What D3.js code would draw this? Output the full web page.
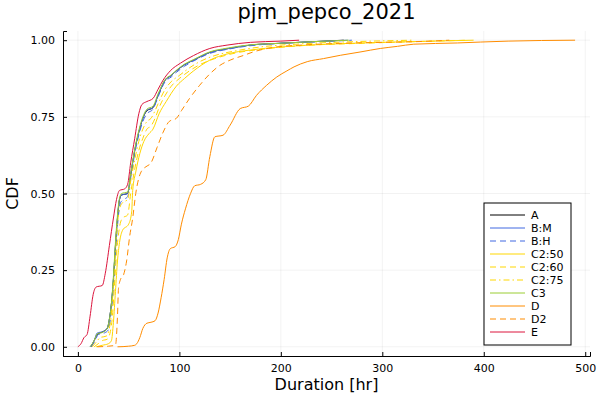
<!DOCTYPE html>
<html>
<head>
<meta charset="utf-8">
<script src="https://cdn.jsdelivr.net/npm/d3@7"></script>
<style>
  body { margin: 0; background: #fff; }
  svg { display: block; font-family: "DejaVu Sans", sans-serif; }
</style>
</head>
<body>
<script>
const width = 600;
const height = 400;
const margin = {top: 31, right: 10, bottom: 44, left: 63};

const chartTitle = 'pjm_pepco_2021';
const xLabel = 'Duration [hr]';
const yLabel = 'CDF';
const xTicks = [0, 100, 200, 300, 400, 500];
const yTicks = [0, 0.25, 0.5, 0.75, 1];

const seriesNames = ['A', 'B:M', 'B:H', 'C2:50', 'C2:60', 'C2:75', 'C3', 'D', 'D2', 'E'];

// [duration, cdf]
const cdfA = [[13,0],[16,0.02],[19,0.04],[25,0.05],[29,0.06],[31,0.09],[33,0.14],[35,0.22],[37,0.33],[39,0.42],[41,0.48],[43,0.495],[49,0.5],[52,0.56],[56,0.64],[60,0.7],[64,0.745],[68,0.77],[74,0.78],[79,0.82],[86,0.87],[92,0.885],[97,0.9],[105,0.92],[114,0.935],[130,0.96],[147,0.972],[170,0.984],[200,0.99],[230,0.995],[262,1]];
const cdfBM = [[12,0],[16,0.02],[19,0.045],[25,0.05],[29,0.062],[31,0.09],[33,0.14],[35,0.22],[37,0.33],[39,0.42],[41,0.48],[43,0.495],[49,0.5],[52,0.56],[56,0.64],[60,0.7],[64,0.745],[68,0.772],[74,0.78],[79,0.82],[86,0.87],[92,0.885],[97,0.9],[105,0.92],[114,0.935],[130,0.96],[147,0.972],[170,0.984],[200,0.99],[230,0.995],[266,1]];
const cdfBH = [[13,0],[17,0.02],[20,0.04],[26,0.045],[30,0.055],[32,0.09],[34,0.15],[36,0.24],[38,0.35],[40,0.43],[42,0.47],[45,0.48],[49,0.49],[52,0.55],[56,0.63],[60,0.69],[64,0.735],[68,0.76],[74,0.775],[79,0.815],[86,0.865],[92,0.88],[97,0.895],[105,0.915],[114,0.932],[130,0.957],[147,0.97],[170,0.982],[200,0.99],[240,0.995],[270,1]];
const cdfC250 = [[18,0],[24,0.005],[30,0.01],[33,0.02],[35,0.08],[37,0.18],[39,0.28],[41,0.34],[44,0.38],[50,0.4],[53,0.44],[54,0.51],[57,0.57],[61,0.63],[65,0.67],[70,0.695],[74,0.71],[80,0.76],[87,0.8],[97,0.85],[105,0.875],[114,0.9],[130,0.935],[147,0.955],[170,0.968],[200,0.978],[240,0.986],[300,0.993],[350,0.997],[390,1]];
const cdfC260 = [[16,0],[20,0.01],[24,0.02],[29,0.025],[32,0.05],[34,0.1],[36,0.2],[38,0.3],[41,0.39],[44,0.42],[49,0.43],[52,0.5],[56,0.58],[60,0.64],[64,0.68],[68,0.71],[72,0.72],[76,0.745],[80,0.78],[86,0.82],[92,0.85],[100,0.875],[110,0.9],[120,0.92],[135,0.94],[155,0.958],[180,0.97],[220,0.982],[280,0.99],[340,0.996],[384,1]];
const cdfC275 = [[14,0],[18,0.015],[22,0.03],[28,0.035],[31,0.06],[33,0.11],[35,0.2],[37,0.31],[39,0.4],[41,0.45],[44,0.47],[49,0.48],[52,0.54],[56,0.61],[60,0.67],[64,0.71],[68,0.735],[72,0.745],[76,0.77],[80,0.8],[86,0.84],[92,0.865],[100,0.885],[110,0.91],[120,0.93],[135,0.95],[155,0.965],[180,0.978],[220,0.988],[270,0.995],[330,1]];
const cdfC3 = [[12,0],[16,0.02],[19,0.042],[25,0.048],[29,0.06],[31,0.09],[33,0.14],[35,0.23],[37,0.34],[39,0.43],[41,0.485],[43,0.5],[49,0.505],[52,0.565],[56,0.645],[60,0.705],[64,0.75],[68,0.775],[74,0.785],[79,0.825],[86,0.872],[92,0.887],[97,0.902],[105,0.922],[114,0.937],[130,0.962],[147,0.974],[170,0.985],[200,0.99],[230,0.995],[267,1]];
const cdfD = [[39,0],[50,0.002],[56,0.005],[58,0.01],[61,0.03],[64,0.06],[68,0.077],[72,0.08],[76,0.085],[79,0.11],[82,0.16],[85,0.22],[88,0.29],[91,0.32],[96,0.327],[99,0.35],[102,0.4],[106,0.45],[111,0.5],[115,0.525],[121,0.53],[126,0.545],[130,0.62],[135,0.685],[143,0.69],[150,0.723],[160,0.777],[168,0.785],[176,0.82],[186,0.853],[196,0.88],[206,0.9],[213,0.913],[226,0.93],[242,0.94],[259,0.951],[279,0.962],[298,0.973],[315,0.98],[331,0.987],[374,0.991],[397,0.994],[424,0.997],[490,1]];
const cdfD2 = [[19,0],[30,0.002],[37,0.005],[39,0.1],[40,0.19],[42,0.22],[45,0.235],[48,0.28],[51,0.36],[54,0.42],[57,0.5],[60,0.55],[63,0.575],[66,0.585],[72,0.6],[78,0.65],[84,0.7],[90,0.735],[97,0.745],[102,0.77],[110,0.81],[120,0.853],[130,0.89],[140,0.918],[150,0.935],[163,0.95],[173,0.962],[196,0.978],[220,0.984],[260,0.99],[300,0.993],[340,0.996],[366,1]];
const cdfE = [[0,0],[3,0.01],[6,0.03],[9,0.04],[12,0.1],[15,0.17],[18,0.195],[24,0.2],[27,0.24],[31,0.33],[35,0.42],[38,0.48],[41,0.51],[46,0.515],[49,0.53],[52,0.6],[56,0.68],[60,0.76],[63,0.79],[68,0.8],[74,0.81],[79,0.84],[84,0.87],[91,0.9],[101,0.925],[114,0.95],[130,0.973],[147,0.984],[170,0.993],[200,0.997],[218,1]];

const seriesValues = [cdfA, cdfBM, cdfBH, cdfC250, cdfC260, cdfC275, cdfC3, cdfD, cdfD2, cdfE];

const seriesStyle = {
  'A':     {color: '#000000', dash: null},
  'B:M':   {color: '#4169e1', dash: null},
  'B:H':   {color: '#4169e1', dash: '6,4'},
  'C2:50': {color: '#ffd700', dash: null},
  'C2:60': {color: '#ffd700', dash: '6,4'},
  'C2:75': {color: '#ffd700', dash: '6,3,1.5,3'},
  'C3':    {color: '#9acd32', dash: null},
  'D':     {color: '#ff8c00', dash: null},
  'D2':    {color: '#ff8c00', dash: '6,4'},
  'E':     {color: '#dc143c', dash: null}
};

const series = seriesNames.map((name, i) => ({name, values: seriesValues[i]}));

const xMax = d3.max(series, s => d3.max(s.values, d => d[0]));
const xPad = 0.03 * xMax;

const x = d3.scaleLinear()
  .domain([-xPad, xMax + xPad])
  .range([margin.left, width - margin.right]);

const y = d3.scaleLinear()
  .domain([-0.03, 1.03])
  .range([height - margin.bottom, margin.top]);

const svg = d3.select('body').append('svg')
  .attr('width', width)
  .attr('height', height);

// grid
svg.append('g')
  .selectAll('line')
  .data(xTicks)
  .join('line')
  .attr('x1', d => x(d)).attr('x2', d => x(d))
  .attr('y1', margin.top).attr('y2', height - margin.bottom)
  .attr('stroke', '#000').attr('stroke-opacity', 0.1).attr('stroke-width', 0.5);

svg.append('g')
  .selectAll('line')
  .data(yTicks)
  .join('line')
  .attr('x1', margin.left).attr('x2', width - margin.right)
  .attr('y1', d => y(d)).attr('y2', d => y(d))
  .attr('stroke', '#000').attr('stroke-opacity', 0.1).attr('stroke-width', 0.5);

// curves
const line = d3.line()
  .x(d => x(d[0]))
  .y(d => y(d[1]))
  .curve(d3.curveMonotoneX);

svg.append('g')
  .selectAll('path')
  .data(series)
  .join('path')
  .attr('fill', 'none')
  .attr('stroke', d => seriesStyle[d.name].color)
  .attr('stroke-width', 1)
  .attr('stroke-dasharray', d => seriesStyle[d.name].dash)
  .attr('d', d => line(d.values));

// axes
const xAxis = svg.append('g')
  .attr('transform', `translate(0,${height - margin.bottom})`)
  .call(d3.axisBottom(x).tickValues(xTicks).tickFormat(d3.format('d')).tickSize(-4).tickPadding(8));

const yAxis = svg.append('g')
  .attr('transform', `translate(${margin.left},0)`)
  .call(d3.axisLeft(y).tickValues(yTicks).tickFormat(d3.format('.2f')).tickSize(-4).tickPadding(8));

[xAxis, yAxis].forEach(g => {
  g.select('.domain').attr('stroke', '#000').attr('stroke-width', 1);
  g.selectAll('.tick line').attr('stroke', '#000');
  g.selectAll('.tick text').attr('font-size', 11).attr('fill', '#000')
    .attr('font-family', '"DejaVu Sans", sans-serif');
});

// titles
svg.append('text')
  .attr('x', (margin.left + width - margin.right) / 2)
  .attr('y', 18.5)
  .attr('text-anchor', 'middle')
  .attr('font-size', 21)
  .text(chartTitle);

svg.append('text')
  .attr('x', (margin.left + width - margin.right) / 2)
  .attr('y', 390)
  .attr('text-anchor', 'middle')
  .attr('font-size', 16)
  .text(xLabel);

svg.append('text')
  .attr('transform', `translate(18,${(margin.top + height - margin.bottom) / 2}) rotate(-90)`)
  .attr('text-anchor', 'middle')
  .attr('font-size', 16)
  .text(yLabel);

// legend
const legend = svg.append('g').attr('transform', 'translate(484,203)');

legend.append('rect')
  .attr('width', 87)
  .attr('height', 142)
  .attr('fill', '#fff')
  .attr('stroke', '#000')
  .attr('stroke-width', 1);

const entry = legend.selectAll('g.entry')
  .data(seriesNames)
  .join('g')
  .attr('class', 'entry')
  .attr('transform', (d, i) => `translate(0,${12 + i * 13})`);

entry.append('line')
  .attr('x1', 6).attr('x2', 41)
  .attr('stroke', d => seriesStyle[d].color)
  .attr('stroke-width', 1)
  .attr('stroke-dasharray', d => seriesStyle[d].dash);

entry.append('text')
  .attr('x', 47)
  .attr('dy', '0.35em')
  .attr('font-size', 11)
  .text(d => d);
</script>
</body>
</html>
